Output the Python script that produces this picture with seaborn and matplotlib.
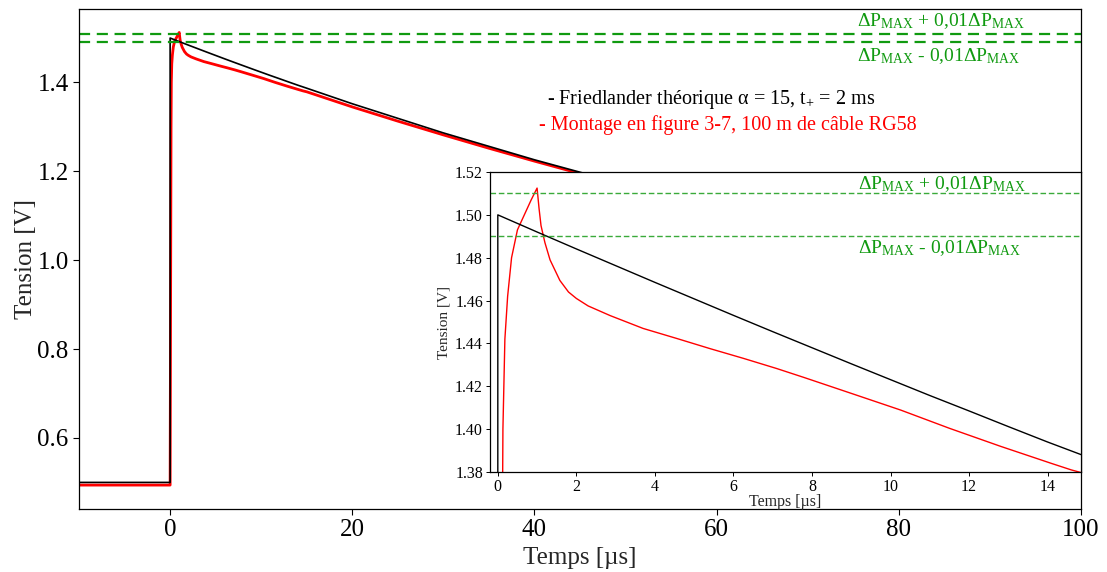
import matplotlib
matplotlib.use("Agg")
import matplotlib.pyplot as plt
import seaborn as sns

# ---- data ----
t_theo = [-10, 0, 0, 1, 2, 3, 4, 5, 6, 7, 8, 9, 10, 11, 12, 13, 14, 15,
          20, 30, 40, 50, 60, 70, 80, 90, 100]
v_theo = [0.500, 0.500, 1.500, 1.4920, 1.4841, 1.4763, 1.4685, 1.4608, 1.4531, 1.4455,
          1.4380, 1.4305, 1.4231, 1.4157, 1.4085, 1.4012, 1.3940, 1.3871,
          1.3521, 1.2865, 1.2260, 1.1701, 1.1185, 1.0709, 1.0268, 0.9863, 0.9488]

t_meas = [-10, 0.0, 0.05, 0.10, 0.13, 0.18, 0.25, 0.35, 0.5, 0.7, 0.85, 1.0,
          1.05, 1.1, 1.2, 1.33, 1.58, 1.8, 2.0, 2.3, 2.86, 3.7, 4.56, 5.4, 6.26,
          7.1, 7.8, 9.0, 10.26, 11.5, 12.8, 14.1, 14.6, 15, 20, 25, 30,
          35, 40, 45, 50, 60, 70, 80, 90, 100]
v_meas = [0.494, 0.494, 0.90, 1.30, 1.40, 1.442, 1.462, 1.480, 1.493, 1.501, 1.507, 1.5125,
          1.503, 1.495, 1.487, 1.479, 1.4694, 1.464, 1.461, 1.4575, 1.453, 1.447, 1.4423, 1.4376, 1.433,
          1.4283, 1.4241, 1.4167, 1.4089, 1.4004, 1.392, 1.384, 1.381, 1.379, 1.345, 1.313, 1.282,
          1.252, 1.223, 1.195, 1.168, 1.116, 1.068, 1.024, 0.983, 0.945]

band_hi = 1.51
band_lo = 1.49
inset_xticks = [0, 2, 4, 6, 8, 10, 12, 14]
inset_yticks = [1.38, 1.40, 1.42, 1.44, 1.46, 1.48, 1.50, 1.52]

sns.set_theme(style="ticks")
plt.rcParams["font.family"] = ["Liberation Serif", "DejaVu Serif"]
plt.rcParams["mathtext.fontset"] = "custom"
plt.rcParams["mathtext.rm"] = "Liberation Serif"
plt.rcParams["mathtext.it"] = "Liberation Serif:italic"

fig = plt.figure(figsize=(11.07, 5.72), dpi=100)
ax = fig.add_axes([0.0714, 0.110, 0.9051, 0.874])

GREEN = "#109a10"
lbl_hi = r"$\Delta$P$_{\mathrm{MAX}}$ + 0,01$\Delta$P$_{\mathrm{MAX}}$"
lbl_lo = r"$\Delta$P$_{\mathrm{MAX}}$ - 0,01$\Delta$P$_{\mathrm{MAX}}$"

sns.lineplot(x=t_meas, y=v_meas, ax=ax, estimator=None, sort=False, color="red", lw=2.0)
sns.lineplot(x=t_theo, y=v_theo, ax=ax, estimator=None, sort=False, color="black", lw=1.2)
ax.axhline(band_hi, color=GREEN, ls="--", lw=1.6, dashes=(5, 3))
ax.axhline(band_lo, color=GREEN, ls="--", lw=1.6, dashes=(5, 3))
ax.set_xlim(-10, 100)
ax.set_ylim(0.44, 1.565)
ax.set_yticks([0.6, 0.8, 1.0, 1.2, 1.4])
ax.set_xticks([0, 20, 40, 60, 80, 100])
ax.tick_params(labelsize=18, length=4, width=0.8, colors="black")
ax.set_xlabel("Temps [µs]", fontsize=18, labelpad=4)
ax.set_ylabel("Tension [V]", fontsize=18, labelpad=0)
for s in ax.spines.values():
    s.set_color("black"); s.set_linewidth(0.9)

ax.text(75.4, 1.515, lbl_hi, color=GREEN, fontsize=14, va="bottom")
ax.text(75.4, 1.482, lbl_lo, color=GREEN, fontsize=14, va="top")
ax.text(41.4, 1.362, "- Friedlander théorique α = 15, t$_{+}$ = 2 ms",
        color="black", fontsize=14.5, va="center")
ax.text(40.5, 1.305, "- Montage en figure 3-7, 100 m de câble RG58",
        color="red", fontsize=14.5, va="center")

# ---- inset ----
ins = fig.add_axes([0.4426, 0.1748, 0.5339, 0.5245])
ins.set_facecolor("white")
sns.lineplot(x=t_meas, y=v_meas, ax=ins, estimator=None, sort=False, color="red", lw=1.0)
sns.lineplot(x=t_theo, y=v_theo, ax=ins, estimator=None, sort=False, color="black", lw=1.0)
ins.axhline(band_hi, color="#3aaa3a", ls="--", lw=1.0, dashes=(4, 2))
ins.axhline(band_lo, color="#3aaa3a", ls="--", lw=1.0, dashes=(4, 2))
ins.set_xlim(-0.2, 14.85)
ins.set_ylim(1.38, 1.52)
ins.set_xticks(inset_xticks)
ins.set_yticks(inset_yticks)
ins.set_yticklabels([f"{v:.2f}" for v in inset_yticks])
ins.tick_params(labelsize=11.5, length=3, width=0.7, colors="black", pad=2)
ins.set_xlabel("Temps [µs]", fontsize=11.5, labelpad=-1)
ins.set_ylabel("Tension [V]", fontsize=11, labelpad=3)
for s in ins.spines.values():
    s.set_color("black"); s.set_linewidth(0.9)
ins.text(9.16, 1.5098, lbl_hi, color=GREEN, fontsize=14, va="bottom")
ins.text(9.16, 1.4893, lbl_lo, color=GREEN, fontsize=14, va="top")

fig.savefig("out.png", dpi=100)
